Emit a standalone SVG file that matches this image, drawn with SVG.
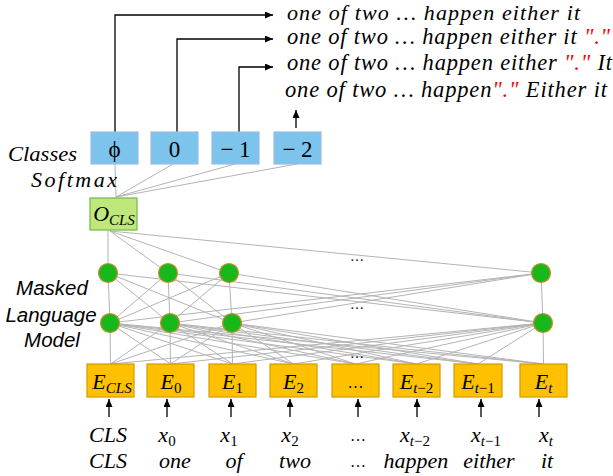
<svg xmlns="http://www.w3.org/2000/svg" width="613" height="476" viewBox="0 0 613 476">
<defs>
<marker id="ah" markerUnits="userSpaceOnUse" markerWidth="9" markerHeight="7" refX="8" refY="3.5" orient="auto">
<path d="M0,0 L8,3.5 L0,7 z" fill="#000"/>
</marker>
<style>
.cls{fill:#7cc4ec;stroke:#9cbce4;stroke-width:1.2}
.emb{fill:#ffc000;stroke:#d29c00;stroke-width:1.2}
.out{fill:#bfe87c;stroke:#74b84a;stroke-width:1.2}
.neu{fill:#18b81c;stroke:#c8902c;stroke-width:1.2}
.w{stroke:#b4b4b4;stroke-width:1;fill:none}
.arr{stroke:#000;stroke-width:1.3;fill:none}
.m{font-family:"Liberation Serif",serif;font-style:italic;fill:#000}
.n{font-family:"Liberation Serif",serif;fill:#000}
.s{font-family:"Liberation Sans",sans-serif;font-style:italic;fill:#000}
.red{fill:#ff0000}
</style>
</defs>
<rect width="613" height="476" fill="#fff"/>

<g id="connectors">
<line class="w" x1="116" y1="197" x2="115" y2="164"/>
<line class="w" x1="116" y1="197" x2="173" y2="164"/>
<line class="w" x1="116" y1="197" x2="235" y2="164"/>
<line class="w" x1="116" y1="197" x2="297" y2="164"/>
<line class="w" x1="108" y1="230" x2="108" y2="273"/>
<line class="w" x1="110" y1="231" x2="168" y2="273"/>
<line class="w" x1="110" y1="231" x2="229" y2="273"/>
<line class="w" x1="110" y1="231" x2="541" y2="273"/>
<g>
<line class="w" x1="108" y1="273" x2="110" y2="323"/>
<line class="w" x1="108" y1="273" x2="170" y2="323"/>
<line class="w" x1="108" y1="273" x2="232" y2="323"/>
<line class="w" x1="108" y1="273" x2="543" y2="323"/>
<line class="w" x1="168" y1="273" x2="110" y2="323"/>
<line class="w" x1="168" y1="273" x2="170" y2="323"/>
<line class="w" x1="168" y1="273" x2="232" y2="323"/>
<line class="w" x1="168" y1="273" x2="543" y2="323"/>
<line class="w" x1="229" y1="273" x2="110" y2="323"/>
<line class="w" x1="229" y1="273" x2="170" y2="323"/>
<line class="w" x1="229" y1="273" x2="232" y2="323"/>
<line class="w" x1="229" y1="273" x2="543" y2="323"/>
<line class="w" x1="541" y1="273" x2="110" y2="323"/>
<line class="w" x1="541" y1="273" x2="170" y2="323"/>
<line class="w" x1="541" y1="273" x2="232" y2="323"/>
<line class="w" x1="541" y1="273" x2="543" y2="323"/>
</g>
<g>
<line class="w" x1="110" y1="323" x2="110.5" y2="364"/>
<line class="w" x1="110" y1="323" x2="170.5" y2="364"/>
<line class="w" x1="110" y1="323" x2="232.5" y2="364"/>
<line class="w" x1="110" y1="323" x2="293.5" y2="364"/>
<line class="w" x1="110" y1="323" x2="355.5" y2="364"/>
<line class="w" x1="110" y1="323" x2="416.5" y2="364"/>
<line class="w" x1="110" y1="323" x2="478" y2="364"/>
<line class="w" x1="110" y1="323" x2="543.5" y2="364"/>
<line class="w" x1="170" y1="323" x2="110.5" y2="364"/>
<line class="w" x1="170" y1="323" x2="170.5" y2="364"/>
<line class="w" x1="170" y1="323" x2="232.5" y2="364"/>
<line class="w" x1="170" y1="323" x2="293.5" y2="364"/>
<line class="w" x1="170" y1="323" x2="355.5" y2="364"/>
<line class="w" x1="170" y1="323" x2="416.5" y2="364"/>
<line class="w" x1="170" y1="323" x2="478" y2="364"/>
<line class="w" x1="170" y1="323" x2="543.5" y2="364"/>
<line class="w" x1="232" y1="323" x2="110.5" y2="364"/>
<line class="w" x1="232" y1="323" x2="170.5" y2="364"/>
<line class="w" x1="232" y1="323" x2="232.5" y2="364"/>
<line class="w" x1="232" y1="323" x2="293.5" y2="364"/>
<line class="w" x1="232" y1="323" x2="355.5" y2="364"/>
<line class="w" x1="232" y1="323" x2="416.5" y2="364"/>
<line class="w" x1="232" y1="323" x2="478" y2="364"/>
<line class="w" x1="232" y1="323" x2="543.5" y2="364"/>
<line class="w" x1="543" y1="323" x2="110.5" y2="364"/>
<line class="w" x1="543" y1="323" x2="170.5" y2="364"/>
<line class="w" x1="543" y1="323" x2="232.5" y2="364"/>
<line class="w" x1="543" y1="323" x2="293.5" y2="364"/>
<line class="w" x1="543" y1="323" x2="355.5" y2="364"/>
<line class="w" x1="543" y1="323" x2="416.5" y2="364"/>
<line class="w" x1="543" y1="323" x2="478" y2="364"/>
<line class="w" x1="543" y1="323" x2="543.5" y2="364"/>
</g>
<polyline class="arr" points="115,132 115,15 273,15" marker-end="url(#ah)"/>
<polyline class="arr" points="177,132 177,39 273,39" marker-end="url(#ah)"/>
<polyline class="arr" points="239,132 239,67 273,67" marker-end="url(#ah)"/>
<line class="arr" x1="296" y1="128" x2="296" y2="110" marker-end="url(#ah)"/>
<line class="arr" x1="109" y1="417" x2="109" y2="399" marker-end="url(#ah)"/>
<line class="arr" x1="167" y1="417" x2="167" y2="399" marker-end="url(#ah)"/>
<line class="arr" x1="231" y1="417" x2="231" y2="399" marker-end="url(#ah)"/>
<line class="arr" x1="290" y1="417" x2="290" y2="399" marker-end="url(#ah)"/>
<line class="arr" x1="358" y1="417" x2="358" y2="399" marker-end="url(#ah)"/>
<line class="arr" x1="417" y1="417" x2="417" y2="399" marker-end="url(#ah)"/>
<line class="arr" x1="481" y1="417" x2="481" y2="399" marker-end="url(#ah)"/>
<line class="arr" x1="539" y1="417" x2="539" y2="399" marker-end="url(#ah)"/>
</g>

<g id="outputs">
<text class="m" x="287" y="20" font-size="22" textLength="293" lengthAdjust="spacing">one of two … happen either it</text>
<text class="m" x="287" y="44" font-size="22.5" textLength="323" lengthAdjust="spacing">one of two … happen either it <tspan class="red">"."</tspan></text>
<text class="m" x="287" y="70" font-size="22.5" textLength="325" lengthAdjust="spacing">one of two … happen either <tspan class="red">"."</tspan> It</text>
<text class="m" x="285" y="97" font-size="22.5" textLength="322" lengthAdjust="spacing">one of two … happen<tspan class="red">"."</tspan> Either it</text>
</g>

<g id="labels">
<text class="m" x="8" y="161" font-size="22" textLength="69" lengthAdjust="spacingAndGlyphs">Classes</text>
<text class="m" x="31" y="187" font-size="22" textLength="86" lengthAdjust="spacing">Softmax</text>
<text class="s" x="52" y="295" font-size="20.5" text-anchor="middle">Masked</text>
<text class="s" x="51" y="322" font-size="20.5" text-anchor="middle">Language</text>
<text class="s" x="52" y="347" font-size="20.5" text-anchor="middle">Model</text>
</g>

<g id="class-phi"><rect class="cls" x="91" y="132" width="47" height="32"/><text class="n" x="114.5" y="157" font-size="23" text-anchor="middle">ϕ</text></g>
<g id="class-0"><rect class="cls" x="151" y="132" width="47" height="32"/><text class="n" x="174.5" y="157" font-size="23" text-anchor="middle">0</text></g>
<g id="class-m1"><rect class="cls" x="212" y="132" width="47" height="32"/><text class="n" x="235.5" y="157" font-size="23" text-anchor="middle">− 1</text></g>
<g id="class-m2"><rect class="cls" x="274" y="132" width="47" height="32"/><text class="n" x="297.5" y="157" font-size="23" text-anchor="middle">− 2</text></g>

<g id="o-cls"><rect class="out" x="90" y="198" width="47" height="32"/><text class="m" x="114" y="221" font-size="22" text-anchor="middle">O<tspan font-size="15" dy="4">CLS</tspan></text></g>

<g id="h1-0"><circle class="neu" cx="108" cy="273" r="9.5"/></g>
<g id="h1-1"><circle class="neu" cx="168" cy="273" r="9.5"/></g>
<g id="h1-2"><circle class="neu" cx="229" cy="273" r="9.5"/></g>
<g id="h1-t"><circle class="neu" cx="541" cy="273" r="9.5"/></g>
<g id="h2-0"><circle class="neu" cx="110" cy="323" r="9.5"/></g>
<g id="h2-1"><circle class="neu" cx="170" cy="323" r="9.5"/></g>
<g id="h2-2"><circle class="neu" cx="232" cy="323" r="9.5"/></g>
<g id="h2-t"><circle class="neu" cx="543" cy="323" r="9.5"/></g>
<g id="dots">
<text class="n" x="357" y="261" font-size="14" text-anchor="middle">…</text>
<text class="n" x="357" y="309" font-size="14" text-anchor="middle">…</text>
<text class="n" x="357" y="358" font-size="14" text-anchor="middle">…</text>
</g>

<g id="e-cls"><rect class="emb" x="87" y="364" width="47" height="33"/><text class="m" x="112" y="389" font-size="22" text-anchor="middle">E<tspan font-size="15" dy="4">CLS</tspan></text></g>
<g id="e-0"><rect class="emb" x="147" y="364" width="47" height="33"/><text class="m" x="171" y="389" font-size="22" text-anchor="middle">E<tspan font-style="normal" font-size="15" dy="4">0</tspan></text></g>
<g id="e-1"><rect class="emb" x="209" y="364" width="47" height="33"/><text class="m" x="232.5" y="389" font-size="22" text-anchor="middle">E<tspan font-style="normal" font-size="15" dy="4">1</tspan></text></g>
<g id="e-2"><rect class="emb" x="270" y="364" width="47" height="33"/><text class="m" x="293.5" y="389" font-size="22" text-anchor="middle">E<tspan font-style="normal" font-size="15" dy="4">2</tspan></text></g>
<g id="e-dots"><rect class="emb" x="332" y="364" width="47" height="33"/><text class="n" x="355.5" y="388" font-size="16" text-anchor="middle">…</text></g>
<g id="e-t2"><rect class="emb" x="393" y="364" width="47" height="33"/><text class="m" x="416.5" y="389" font-size="22" text-anchor="middle">E<tspan font-size="15" dy="4">t<tspan font-style="normal">−2</tspan></tspan></text></g>
<g id="e-t1"><rect class="emb" x="454" y="364" width="48" height="33"/><text class="m" x="478" y="389" font-size="22" text-anchor="middle">E<tspan font-size="15" dy="4">t<tspan font-style="normal">−1</tspan></tspan></text></g>
<g id="e-t"><rect class="emb" x="520" y="364" width="47" height="33"/><text class="m" x="543.5" y="389" font-size="22" text-anchor="middle">E<tspan font-size="15" dy="4">t</tspan></text></g>

<g id="inputs">
<text class="m" x="108" y="442" font-size="22" text-anchor="middle">CLS</text>
<text class="m" x="167" y="442" font-size="22" text-anchor="middle">x<tspan font-style="normal" font-size="15" dy="4">0</tspan></text>
<text class="m" x="229" y="442" font-size="22" text-anchor="middle">x<tspan font-style="normal" font-size="15" dy="4">1</tspan></text>
<text class="m" x="290" y="442" font-size="22" text-anchor="middle">x<tspan font-style="normal" font-size="15" dy="4">2</tspan></text>
<text class="n" x="358" y="441" font-size="16" text-anchor="middle">…</text>
<text class="m" x="415" y="442" font-size="22" text-anchor="middle">x<tspan font-size="15" dy="4">t<tspan font-style="normal">−2</tspan></tspan></text>
<text class="m" x="486" y="442" font-size="22" text-anchor="middle">x<tspan font-size="15" dy="4">t<tspan font-style="normal">−1</tspan></tspan></text>
<text class="m" x="546" y="442" font-size="22" text-anchor="middle">x<tspan font-size="15" dy="4">t</tspan></text>
<text class="m" x="108" y="468" font-size="22" text-anchor="middle">CLS</text>
<text class="m" x="175" y="468" font-size="22" text-anchor="middle">one</text>
<text class="m" x="234" y="468" font-size="22" text-anchor="middle">of</text>
<text class="m" x="295" y="468" font-size="22" text-anchor="middle">two</text>
<text class="n" x="358" y="467" font-size="16" text-anchor="middle">…</text>
<text class="m" x="416" y="468" font-size="22" text-anchor="middle">happen</text>
<text class="m" x="489" y="468" font-size="22" text-anchor="middle">either</text>
<text class="m" x="547" y="468" font-size="22" text-anchor="middle">it</text>
</g>
</svg>
